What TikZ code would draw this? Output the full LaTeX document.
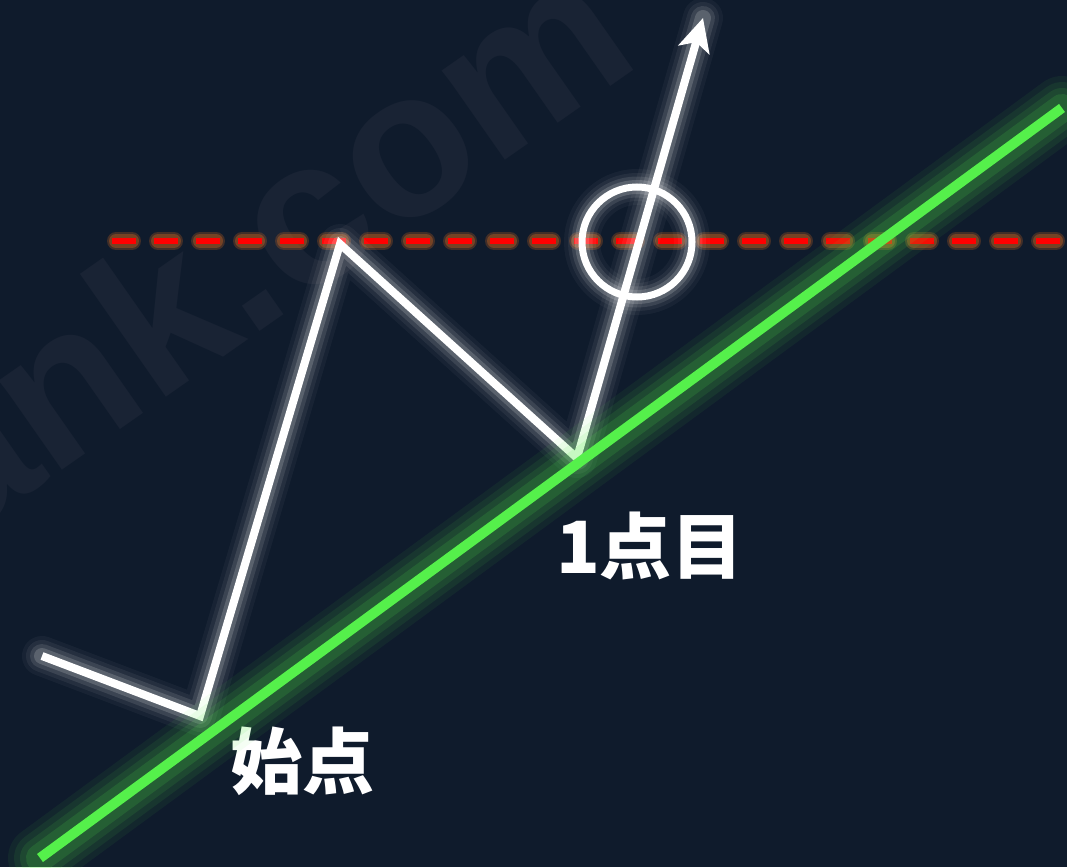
\documentclass[tikz,border=0pt]{standalone}
\usepackage{fontspec}
\newfontfamily\jpfont{Noto Sans CJK JP}
\newfontfamily\wmfont{Liberation Sans}
\usetikzlibrary{arrows.meta}
\definecolor{bgnavy}{RGB}{15,27,44}
\definecolor{wmark}{RGB}{25,35,52}
\definecolor{trendgreen}{RGB}{85,240,75}
\definecolor{dashred}{RGB}{255,0,0}
\definecolor{dashglow}{RGB}{215,105,30}

\begin{document}
\begin{tikzpicture}[x=1pt,y=-1pt,
	price/.style={draw=white, line width=8pt, line join=miter},
	halo/.style={draw=#1, line join=round, line cap=round},
	lbl/.style={text=white, inner sep=0pt, font=\jpfont\bfseries\fontsize{72}{72}\selectfont}]
	\useasboundingbox (0,0) rectangle (1067,867);
	\fill[bgnavy] (0,0) rectangle (1067,867);
	\begin{scope}
		\clip (0,0) rectangle (1067,867);
		\node[text=wmark, rotate=35, inner sep=0pt, font=\wmfont\bfseries\fontsize{207}{207}\selectfont] (wm) at (258,243) {ank.com};
	\end{scope}
	\coordinate (s0) at (42,656);
	\coordinate (s1) at (200,716);
	\coordinate (s2) at (340,244);
	\coordinate (s3) at (577,458);
	\coordinate (s4) at (703,18);
	\coordinate (g0) at (40,858);
	\coordinate (g1) at (1062,108);
	\coordinate (r0) at (112,241);
	\coordinate (r1) at (1067,241);
	\coordinate (q0) at (116,241);
	\foreach \w/\o in {18/0.25,14/0.35}
		\draw[dashglow, opacity=\o, line width=\w pt, line cap=round, dash pattern=on 16pt off 26pt] (q0) -- (r1);
	\draw[dashred, line width=6pt, dash pattern=on 24pt off 18pt] (r0) -- (r1);
	\foreach \w/\o in {40/0.04,32/0.06,24/0.1,16/0.16}
		\draw[halo=white, line width=\w pt, opacity=\o] (s0) -- (s1) -- (s2) -- (s3) -- (s4);
	\node[circle, minimum size=110pt, inner sep=0pt] (ring) at (637,242) {};
	\foreach \w/\o in {36/0.04,28/0.06,21/0.1,14/0.16}
		\draw[halo=white, line width=\w pt, opacity=\o] (ring.center) circle[radius=55];
	\draw[white, line width=7pt] (ring.center) circle[radius=55];
	\draw[price, -{Stealth[length=33pt, width=32pt, inset=8pt]}] (s0) -- (s1) -- (s2) -- (s3) -- (s4);
	\node[lbl] (first) at (650,546) {1点目};
	\node[lbl] (origin) at (302,761) {始点};
	\foreach \w/\o in {64/0.06,52/0.08,40/0.1,28/0.14}
		\draw[halo=trendgreen, line width=\w pt, opacity=\o] (g0) -- (g1);
	\draw[trendgreen, line width=10pt] (g0) -- (g1);
\end{tikzpicture}
\end{document}
